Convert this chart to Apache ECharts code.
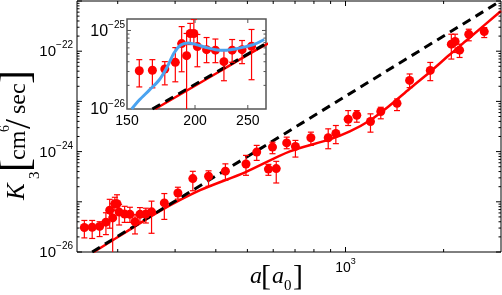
<!DOCTYPE html>
<html><head><meta charset="utf-8">
<script src="https://cdn.jsdelivr.net/npm/echarts@6/dist/echarts.min.js"></script>
<style>html,body{margin:0;padding:0;background:#fff}#c{width:502px;height:295px}</style>
</head><body><div id="c"></div>
<script>
// ---- data ----
const scatA = [158,167,176,184,189,193,196,199,202,210,218,226,234,244,254,
  278,306,340,380,428,495,534,580,597,613,660,702,783,885,934,1019,1083,1193,1283,1439,1573,1820,2112,2169,2239,2389,2665];
const scatK = [3.07e-26,3.12e-26,3.23e-26,3.93e-26,6.81e-26,4.78e-26,9.16e-26,9.16e-26,6.24e-26,5.70e-26,5.62e-26,4.01e-26,5.62e-26,5.70e-26,6.30e-26,
  9.51e-26,1.50e-25,2.90e-25,3.22e-25,4.08e-25,5.65e-25,9.77e-25,4.48e-25,1.23e-24,4.58e-25,1.49e-24,1.27e-24,1.89e-24,1.89e-24,2.30e-24,4.40e-24,5.30e-24,3.97e-24,6.28e-24,9.16e-24,2.62e-23,4.14e-23,1.38e-22,1.56e-22,1.05e-22,2.18e-22,2.46e-22];
const errLo = [1.91e-26,1.86e-26,2.03e-26,2.22e-26,2.98e-26,3e-27,6.62e-26,6.81e-26,3.45e-26,3.89e-26,3.89e-26,2.29e-26,3.94e-26,3.78e-26,2.36e-26,
  4.46e-26,1.13e-25,1.66e-25,2.04e-25,2.69e-25,3.37e-25,6.68e-25,3.37e-25,9.08e-25,2.37e-25,1.14e-24,7.78e-25,1.33e-24,1.14e-24,1.44e-24,3.31e-24,3.85e-24,2.44e-24,4.50e-24,6.56e-24,1.88e-23,2.59e-23,6.97e-23,9.42e-23,7.50e-23,1.61e-22,1.87e-22];
const errHi = [4.25e-26,4.25e-26,4.01e-26,6.05e-26,1.12e-25,9.16e-26,1.23e-25,1.38e-25,8.89e-26,8.13e-26,7.78e-26,5.55e-26,7.67e-26,7.45e-26,1.03e-25,
  1.46e-25,1.95e-25,4.05e-25,4.14e-25,5.70e-25,8.41e-25,1.33e-24,5.57e-25,1.54e-24,6.40e-25,1.94e-24,1.67e-24,2.44e-24,2.84e-24,3.31e-24,6.56e-24,6.56e-24,5.65e-24,7.64e-24,1.12e-23,3.52e-23,5.97e-23,2.18e-22,2.18e-22,1.38e-22,2.74e-22,2.95e-22];

const theoryA = [169,219,270,358,492,675,895,1031,1187,1366,1573,1812,2086,2403,3000];
const theoryK = [1e-26,2.85e-26,6.6e-26,1.70e-25,3.86e-25,1.01e-24,1.75e-24,2.52e-24,4.16e-24,8.26e-24,1.79e-23,3.81e-23,8.49e-23,1.85e-22,6.34e-22];

const dashA = [167,2990];
const dashK = [1e-26,1e-21];

const blueA = [153,158,165,172,178,183,188,194,201,209,218,227,237,247,258,268];
const blueK = [1e-26,1.30e-26,1.75e-26,2.36e-26,3.48e-26,5.18e-26,6.49e-26,6.95e-26,6.61e-26,6.11e-26,5.70e-26,5.58e-26,5.82e-26,6.18e-26,6.75e-26,7.67e-26];

// tick labels
const mainXLabelVals = [1000];
const mainXLabelText = ['{b|10}{s|3}'];
const mainYLabelExps = [-26,-24,-22];
const insetYLabelExps = [-26,-25];
const insetXLabels = [150,200,250];

// ---- helpers ----
const SANS = '"Liberation Sans", Arial, sans-serif';
const SERIF = '"Liberation Serif", "Times New Roman", serif';
const RED = '#ff0000';
const BLUE = '#4aa3f0';

function powLabel(e){ return '{b|10}{s|' + (e<0?'\u2212':'') + Math.abs(e) + '}'; }
function mkRich(big, small, raise){
  return { b:{fontSize:big, fontFamily:SANS, fill:'#000', verticalAlign:'bottom', lineHeight:big+2},
           s:{fontSize:small, fontFamily:SANS, fill:'#000', verticalAlign:'bottom', lineHeight:small+1, padding:[0,0,raise,0]} };
}
const richMain = mkRich(15,10,9), richX = mkRich(14,9,9), richInset = mkRich(16,10,9);

function mainYTicks(){ const t=[]; for(let d=-26; d<=-21; d++){ t.push([Math.pow(10,d),5]); if(d<-21) for(let m=2;m<=9;m++) t.push([m*Math.pow(10,d),2.5]); } return t; }
const mainXTicks = [[200,3],[300,3],[400,3],[500,3],[600,3],[700,3],[800,3],[900,3],[1000,5],[2000,3]];
function insetYTicks(){ const t=[]; for(let m=2;m<=9;m++) t.push([m*1e-26,2.5]); t.push([1e-25,4]); return t; }
const insetXTicks = [[200,4],[250,4]];

// ticks + labels drawn through the axes' own scales (api.coord)
function tickSeries(idx, cfg){
  return {
    type:'custom', xAxisIndex:idx, yAxisIndex:idx, clip:false, silent:true, z:cfg.z||8,
    data:[[cfg.xMin,cfg.yMin]],
    renderItem:function(params, api){
      const cs = params.coordSys; const ch=[];
      const L=(x1,y1,x2,y2)=>ch.push({type:'line', shape:{x1:x1,y1:y1,x2:x2,y2:y2}, style:{stroke:cfg.color, lineWidth:1}});
      const top=cs.y, bot=cs.y+cs.height, left=cs.x, right=cs.x+cs.width;
      cfg.xTicks.forEach(t=>{ const px=api.coord([t[0], cfg.yMin])[0]; L(px,bot,px,bot-t[1]); L(px,top,px,top+t[1]); });
      cfg.yTicks.forEach(t=>{ const py=api.coord([cfg.xMin, t[0]])[1]; L(left,py,left+t[1],py); L(right,py,right-t[1],py); });
      (cfg.xLabels||[]).forEach(l=>{ const px=api.coord([l.v,cfg.yMin])[0];
        ch.push({type:'text', style:{text:l.text, x:px, y:bot+cfg.xMargin, align:'center', verticalAlign:'top', rich:cfg.xRich, font:cfg.xFont||('14px '+SANS), fill:'#000'}}); });
      (cfg.yLabels||[]).forEach(l=>{ const py=api.coord([cfg.xMin,l.v])[1];
        ch.push({type:'text', style:{text:l.text, x:left-cfg.yMargin, y:py, align:'right', verticalAlign:'middle', rich:cfg.yRich, fill:'#000'}}); });
      return {type:'group', children:ch};
    }
  };
}

function errorSeries(idx, pts, z){
  return {
    type:'custom', xAxisIndex:idx, yAxisIndex:idx, clip:true, silent:true, z:z,
    data: pts,
    renderItem:function(params, api){
      const a=api.value(0);
      const lo=api.coord([a, api.value(1)]), hi=api.coord([a, api.value(2)]);
      const w=3, st={stroke:RED, lineWidth:1.2};
      return {type:'group', children:[
        {type:'line', shape:{x1:lo[0],y1:lo[1],x2:hi[0],y2:hi[1]}, style:st},
        {type:'line', shape:{x1:lo[0]-w,y1:lo[1],x2:lo[0]+w,y2:lo[1]}, style:st},
        {type:'line', shape:{x1:hi[0]-w,y1:hi[1],x2:hi[0]+w,y2:hi[1]}, style:st}
      ]};
    }
  };
}

const allPts = scatA.map((a,i)=>[a, scatK[i]]);
const allErr = scatA.map((a,i)=>[a, errLo[i], errHi[i]]);
const insetPts = allPts.filter(p=>p[0]<=270);
const insetErr = allErr.filter(p=>p[0]<=270);
const theory = theoryA.map((a,i)=>[a, theoryK[i]]);
const dashed = dashA.map((a,i)=>[a, dashK[i]]);
const blue = blueA.map((a,i)=>[a, blueK[i]]);

const noAxisParts = { axisLine:{show:false}, axisTick:{show:false}, axisLabel:{show:false}, splitLine:{show:false}, minorTick:{show:false}, minorSplitLine:{show:false} };

const option = {
  animation:false,
  backgroundColor:'#fff',
  grid:[
    {left:77, top:1, width:424, height:251, show:true, borderColor:'#000', borderWidth:1, backgroundColor:'transparent', outerBoundsMode:'none', containLabel:false},
    {left:127, top:19, width:139, height:90, show:true, borderColor:'#555', borderWidth:1.5, backgroundColor:'#fff', outerBoundsMode:'none', containLabel:false, z:3}
  ],
  xAxis:[
    Object.assign({type:'log', logBase:10, gridIndex:0, min:150, max:3000}, noAxisParts),
    Object.assign({type:'log', logBase:10, gridIndex:1, min:150, max:270}, noAxisParts)
  ],
  yAxis:[
    Object.assign({type:'log', logBase:10, gridIndex:0, min:1e-26, max:1e-21}, noAxisParts),
    Object.assign({type:'log', logBase:10, gridIndex:1, min:1e-26, max:1.4e-25}, noAxisParts)
  ],
  series:[
    // main
    {type:'line', xAxisIndex:0, yAxisIndex:0, data:theory, smooth:0.3, showSymbol:false, silent:true, z:2,
      lineStyle:{color:RED, width:2.5}},
    {type:'line', xAxisIndex:0, yAxisIndex:0, data:dashed, showSymbol:false, silent:true, z:3,
      lineStyle:{color:'#000', width:3, type:[9,6]}},
    errorSeries(0, allErr, 4),
    {type:'scatter', xAxisIndex:0, yAxisIndex:0, data:allPts, symbol:'circle', symbolSize:9, silent:true, z:5,
      itemStyle:{color:RED, opacity:1}},
    tickSeries(0, {xMin:150, yMin:1e-26, color:'#000', z:8, xTicks:mainXTicks, yTicks:mainYTicks(),
      xLabels: mainXLabelVals.map((v,i)=>({v:v, text:mainXLabelText[i]})), xRich:richX, xMargin:7,
      yLabels: mainYLabelExps.map(e=>({v:Math.pow(10,e), text:powLabel(e)})), yRich:richMain, yMargin:4}),
    // inset
    {type:'line', xAxisIndex:1, yAxisIndex:1, data:theory, smooth:0.3, showSymbol:false, silent:true, z:12,
      lineStyle:{color:RED, width:2.5}},
    {type:'line', xAxisIndex:1, yAxisIndex:1, data:dashed, showSymbol:false, silent:true, z:13,
      lineStyle:{color:'#000', width:3, type:[9,6]}},
    errorSeries(1, insetErr, 14),
    {type:'scatter', xAxisIndex:1, yAxisIndex:1, data:insetPts, symbol:'circle', symbolSize:9, silent:true, z:15,
      itemStyle:{color:RED, opacity:1}},
    {type:'line', xAxisIndex:1, yAxisIndex:1, data:blue, smooth:0.3, showSymbol:false, silent:true, z:16,
      lineStyle:{color:BLUE, width:3}},
    tickSeries(1, {xMin:150, yMin:1e-26, color:'#555', z:17, xTicks:insetXTicks, yTicks:insetYTicks(),
      xLabels: insetXLabels.map(v=>({v:v, text:String(v)})), xRich:null, xFont:'14px '+SANS, xMargin:5,
      yLabels: insetYLabelExps.map(e=>({v:Math.pow(10,e), text:powLabel(e)})), yRich:richInset, yMargin:2})
  ],
  graphic:[
    {type:'group', x:0, y:200, rotation:Math.PI/2, silent:true, children:[
      {type:'text', x:0, y:17.5, style:{text:'K', font:'italic 25px '+SERIF, fill:'#000', align:'left', verticalAlign:'middle'}},
      {type:'text', x:21, y:35, style:{text:'3', font:'15px '+SERIF, fill:'#000', align:'left', verticalAlign:'middle'}},
      {type:'text', x:28, y:16.5, style:{text:'[', font:'42px '+SERIF, fill:'#000', align:'left', verticalAlign:'middle'}},
      {type:'text', x:40, y:19, style:{text:'cm', font:'24px '+SERIF, fill:'#000', align:'left', verticalAlign:'middle'}},
      {type:'text', x:68, y:5, style:{text:'6', font:'14px '+SERIF, fill:'#000', align:'left', verticalAlign:'middle'}},
      {type:'text', x:71, y:21, style:{text:'/', font:'36px '+SERIF, fill:'#000', align:'left', verticalAlign:'middle'}},
      {type:'text', x:86, y:19, style:{text:'sec', font:'24px '+SERIF, fill:'#000', align:'left', verticalAlign:'middle'}},
      {type:'text', x:116, y:16.5, style:{text:']', font:'42px '+SERIF, fill:'#000', align:'left', verticalAlign:'middle'}}
    ]},
    {type:'text', x:250, y:276.6, silent:true, style:{text:'a', font:'italic 24px '+SERIF, fill:'#000', align:'left', verticalAlign:'middle'}},
    {type:'text', x:261, y:277.4, silent:true, style:{text:'[', font:'30px '+SERIF, fill:'#000', align:'left', verticalAlign:'middle'}},
    {type:'text', x:272, y:276.6, silent:true, style:{text:'a', font:'italic 24px '+SERIF, fill:'#000', align:'left', verticalAlign:'middle'}},
    {type:'text', x:284, y:286.5, silent:true, style:{text:'0', font:'15px '+SERIF, fill:'#000', align:'left', verticalAlign:'middle'}},
    {type:'text', x:293, y:277.4, silent:true, style:{text:']', font:'30px '+SERIF, fill:'#000', align:'left', verticalAlign:'middle'}}
  ]
};
const chart = echarts.init(document.getElementById('c'), null, {renderer:'canvas'});
chart.setOption(option);
</script>
</body></html>
